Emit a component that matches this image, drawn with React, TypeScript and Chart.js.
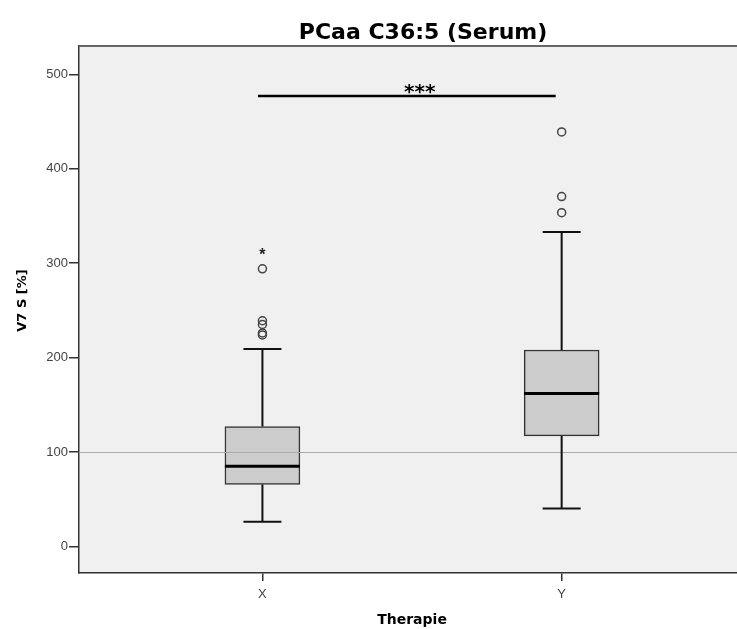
import React, { useEffect, useRef } from 'react';
import { Chart, registerables } from 'chart.js';

Chart.register(...registerables);

const categories = ['X', 'Y'];
const q1 = [65.6, 117];
const medians = [85, 162];
const q3 = [127, 208];
const whiskerLow = [26, 40];
const whiskerHigh = [209, 333];
const outliersX = [294, 239, 235, 226, 224];
const outliersY = [439, 370.5, 353.5];
const extremesX = [311];
const yTicks = [0, 100, 200, 300, 400, 500];
const referenceValue = 100;
const sigLevel = 477;
const sigStart = -0.015;
const sigEnd = 0.98;
const sigLabel = '***';
const titleText = 'PCaa C36:5 (Serum)';
const xTitle = 'Therapie';
const yTitle = 'V7 S [%]';

const FONT = '"Liberation Sans", Arial, sans-serif';
const BOLD_FONT = '"DejaVu Sans", sans-serif';
const BOX_W = 75;
const CAP_W = 38;

const spssPlugin = {
  id: 'spss',
  beforeDraw(chart: any) {
    const { ctx, chartArea: a } = chart;
    ctx.save();
    ctx.fillStyle = '#f0f0f0';
    ctx.fillRect(a.left, a.top, a.right - a.left, a.bottom - a.top);
    ctx.restore();
  },
  afterDatasetsDraw(chart: any) {
    const { ctx, chartArea: a, scales } = chart;
    const x = scales.x;
    const y = scales.y;
    ctx.save();
    const ry = Math.round(y.getPixelForValue(referenceValue)) + 0.5;
    ctx.strokeStyle = '#a9a9a9';
    ctx.lineWidth = 1;
    ctx.beginPath();
    ctx.moveTo(a.left, ry);
    ctx.lineTo(a.right, ry);
    ctx.stroke();

    categories.forEach((_, i) => {
      const cx = x.getPixelForValue(i);
      ctx.strokeStyle = '#111';
      ctx.lineWidth = 2;
      ctx.beginPath();
      ctx.moveTo(cx, y.getPixelForValue(q1[i]));
      ctx.lineTo(cx, y.getPixelForValue(whiskerLow[i]));
      ctx.moveTo(cx - CAP_W / 2, y.getPixelForValue(whiskerLow[i]));
      ctx.lineTo(cx + CAP_W / 2, y.getPixelForValue(whiskerLow[i]));
      ctx.moveTo(cx, y.getPixelForValue(q3[i]));
      ctx.lineTo(cx, y.getPixelForValue(whiskerHigh[i]));
      ctx.moveTo(cx - CAP_W / 2, y.getPixelForValue(whiskerHigh[i]));
      ctx.lineTo(cx + CAP_W / 2, y.getPixelForValue(whiskerHigh[i]));
      ctx.stroke();
      ctx.strokeStyle = '#000';
      ctx.lineWidth = 3;
      ctx.beginPath();
      ctx.moveTo(cx - BOX_W / 2, y.getPixelForValue(medians[i]));
      ctx.lineTo(cx + BOX_W / 2, y.getPixelForValue(medians[i]));
      ctx.stroke();
    });

    ctx.fillStyle = '#222';
    ctx.font = `bold 16px ${FONT}`;
    ctx.textAlign = 'center';
    ctx.textBaseline = 'middle';
    extremesX.forEach((v) => {
      ctx.fillText('*', x.getPixelForValue(0), y.getPixelForValue(v) + 3);
    });

    ctx.fillStyle = '#000';
    ctx.font = `bold 20px ${BOLD_FONT}`;
    ctx.textBaseline = 'alphabetic';
    ctx.fillText(sigLabel, (x.getPixelForValue(sigStart) + x.getPixelForValue(sigEnd)) / 2 + 13, y.getPixelForValue(sigLevel) + 2);

    ctx.strokeStyle = '#666';
    ctx.lineWidth = 2;
    ctx.beginPath();
    ctx.moveTo(a.left, a.top);
    ctx.lineTo(a.right, a.top);
    ctx.stroke();
    ctx.restore();
  },
  afterDraw(chart: any) {
    const { ctx, chartArea: a, scales } = chart;
    const x = scales.x;
    ctx.save();
    ctx.fillStyle = '#000';
    ctx.textAlign = 'center';
    ctx.textBaseline = 'middle';
    const mid = (x.getPixelForValue(0) + x.getPixelForValue(1)) / 2;
    ctx.font = `bold 22px ${BOLD_FONT}`;
    ctx.fillText(titleText, mid + 11, a.top - 13);
    ctx.font = `bold 13px ${BOLD_FONT}`;
    ctx.translate(23, a.top + (a.bottom - a.top) * 0.483);
    ctx.rotate(-Math.PI / 2);
    ctx.fillText(yTitle, 0, 0);
    ctx.restore();
    ctx.save();
    ctx.fillStyle = '#000';
    ctx.textAlign = 'center';
    ctx.textBaseline = 'middle';
    ctx.font = `bold 14px ${BOLD_FONT}`;
    ctx.fillText(xTitle, mid, a.bottom + 47);
    ctx.restore();
  },
};

export default function App() {
  const ref = useRef<HTMLCanvasElement | null>(null);
  useEffect(() => {
    document.body.style.margin = '0';
    if (!ref.current) return;
    const chart = new Chart(ref.current, {
      type: 'bar',
      data: {
        datasets: [
          {
            type: 'bar',
            data: categories.map((_, i) => ({ x: i, y: [q1[i], q3[i]] })) as any,
            backgroundColor: '#cccccc',
            borderColor: '#333333',
            borderWidth: 1.5,
            borderSkipped: false,
            barThickness: BOX_W,
          } as any,
          {
            type: 'scatter',
            data: [
              ...outliersX.map((v) => ({ x: 0, y: v })),
              ...outliersY.map((v) => ({ x: 1, y: v })),
            ],
            pointStyle: 'circle',
            pointRadius: 4,
            pointBorderWidth: 1.5,
            pointBorderColor: '#444',
            pointBackgroundColor: 'rgba(0,0,0,0)',
          } as any,
          {
            type: 'line',
            data: [
              { x: sigStart, y: sigLevel },
              { x: sigEnd, y: sigLevel },
            ],
            borderColor: '#000',
            borderWidth: 2.5,
            pointRadius: 0,
            fill: false,
          } as any,
        ],
      },
      options: {
        animation: false,
        responsive: true,
        maintainAspectRatio: false,
        layout: { autoPadding: false, padding: { top: 46, left: 0, right: 0, bottom: 0 } },
        plugins: { legend: { display: false }, tooltip: { enabled: false }, title: { display: false } },
        scales: {
          x: {
            type: 'linear',
            offset: false,
            min: -0.613,
            max: 1.586,
            afterBuildTicks: (s: any) => {
              s.ticks = categories.map((_, i) => ({ value: i }));
            },
            afterFit: (s: any) => {
              s.height = 56;
              s.paddingLeft = 0;
              s.paddingRight = 0;
            },
            ticks: {
              callback: (v: any) => categories[v as number] ?? '',
              color: '#444',
              font: { family: FONT, size: 13 },
              padding: 6,
              maxRotation: 0,
            },
            grid: { offset: false, drawOnChartArea: false, drawTicks: true, tickLength: 8, color: '#333', lineWidth: 1.5 },
            border: { display: true, color: '#333', width: 1.5 },
          },
          y: {
            type: 'linear',
            min: -28.2,
            max: 530,
            afterBuildTicks: (s: any) => {
              s.ticks = yTicks.map((v) => ({ value: v }));
            },
            afterFit: (s: any) => {
              s.width = 79;
            },
            ticks: {
              color: '#444',
              font: { family: FONT, size: 13 },
              padding: 1,
            },
            grid: { drawOnChartArea: false, drawTicks: true, tickLength: 10, color: '#333', lineWidth: 1.5 },
            border: { display: true, color: '#333', width: 1.5 },
          },
        },
      },
      plugins: [spssPlugin],
    });
    return () => chart.destroy();
  }, []);
  return (
    <div style={{ width: 737, height: 629, position: 'relative' }}>
      <canvas ref={ref} />
    </div>
  );
}
